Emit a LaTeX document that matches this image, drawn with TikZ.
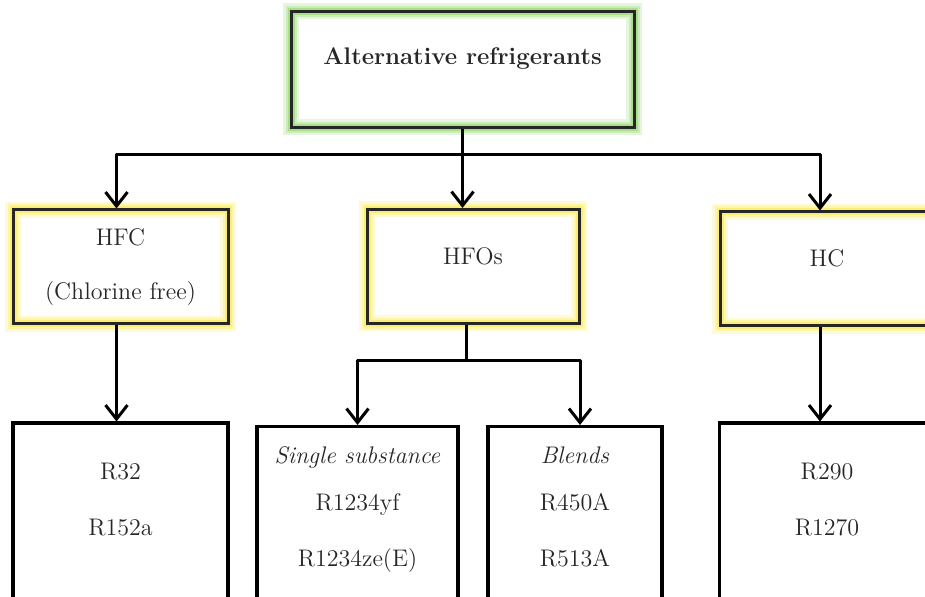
\documentclass[tikz,border=0pt]{standalone}
\usepackage{tikz}
\usetikzlibrary{positioning, arrows.meta, calc}
\usepackage{xcolor}

\definecolor{glowgreen}{RGB}{170,222,140}
\definecolor{glowyellow}{RGB}{250,238,120}

\begin{document}
\begin{tikzpicture}[
    x=0.5pt, y=-0.5pt,
    box/.style={draw=black!85, line width=1.5pt, rectangle, align=center, font=\large, text=black!85},
    glow/.style={preaction={draw=#1!30, line width=8pt},
        preaction={draw=#1!60, line width=5.5pt},
        preaction={draw=#1, line width=3.5pt}},
    topbox/.style={box, glow=glowgreen, font=\large\bfseries,
        minimum width=171.5pt, minimum height=58pt, text height=9pt, text depth=13.5pt},
    midbox/.style={box, glow=glowyellow, minimum height=57pt},
    oneline/.style={text height=9pt, text depth=11pt},
    leafbox/.style={box, draw=black, line width=1.6pt, anchor=north, text depth=48pt},
    arrow/.style={line width=1.5pt, line join=round, -{Straight Barb[length=7pt, width=11pt]}},
    link/.style={line width=1.5pt, line join=round}
]
    \useasboundingbox (0,0) rectangle (925,597);
    \clip (0,0) rectangle (925,597);

    % Top
    \node[topbox] (alt) at (462.5,69.5) {Alternative refrigerants};

    % Families
    \node[midbox, minimum width=107.5pt] (hfc) at (120.5,267) {HFC\\[13pt](Chlorine free)};
    \node[midbox, oneline, minimum width=106pt] (hfo) at (473,266.5) {HFOs};
    \node[midbox, oneline, minimum width=107pt] (hc) at (827,269) {HC};

    % Examples
    \node[leafbox, inner ysep=20pt, minimum width=107.5pt] (r32) [below=48pt of hfc] {R32\\[14pt]R152a};
    \node[leafbox, inner ysep=10pt, minimum width=100.5pt] (single) at (357.5,425)
        {\textit{Single substance}\\[9.5pt]R1234yf\\[14pt]R1234ze(E)};
    \node[leafbox, inner ysep=10pt, minimum width=87pt] (blends) at (575,425)
        {\textit{Blends}\\[9.5pt]R450A\\[14pt]R513A};
    \node[leafbox, inner ysep=20pt, minimum width=107.5pt] (r290) [below=47pt of hc] {R290\\[14pt]R1270};

    % Connectors
    \coordinate (bus) at ($(alt.south)+(0,-13pt)$);
    \draw[arrow] (alt.south) -- (alt.south |- hfo.north);
    \draw[arrow] (bus) -| ([xshift=-2pt]hfc.north);
    \draw[arrow] (bus) -| ([xshift=-3.5pt]hc.north);

    \draw[arrow] ([xshift=-2pt]hfc.south) -- ([xshift=-2pt]r32.north);

    \coordinate (fork) at ($([xshift=-3.5pt]hfo.south)+(0,-18pt)$);
    \draw[link] ([xshift=-3.5pt]hfo.south) -- (fork);
    \draw[arrow] (fork) -| (single.north);
    \draw[arrow] (fork) -| ([xshift=2.5pt]blends.north);

    \draw[arrow] ([xshift=-3.5pt]hc.south) -- ([xshift=-3.5pt]r290.north);
\end{tikzpicture}
\end{document}
